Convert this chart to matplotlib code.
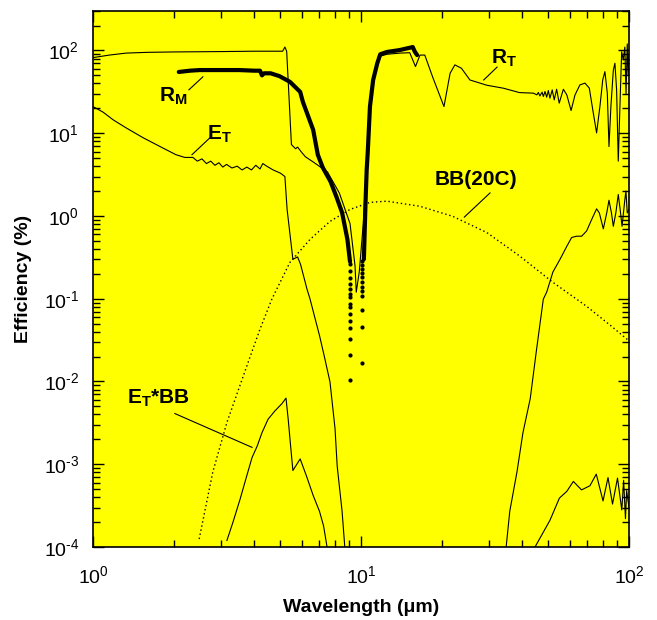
import math
import matplotlib
matplotlib.use("Agg")
import matplotlib.pyplot as plt
from matplotlib.ticker import FixedLocator, FuncFormatter, NullFormatter

plt.rcParams['font.family'] = ['Liberation Sans', 'DejaVu Sans']
plt.rcParams['mathtext.fontset'] = 'custom'
plt.rcParams['mathtext.rm'] = 'Liberation Sans'
plt.rcParams['mathtext.bf'] = 'Liberation Sans:bold'
plt.rcParams['mathtext.it'] = 'Liberation Sans:italic'

# R_T (thin reflectance)
rt_x = [1.0, 1.15, 1.33, 1.6, 2.0, 3.0, 4.0, 5.1, 5.2, 5.28, 5.5, 5.7, 5.8, 6.0, 6.2, 6.63,
        7.5, 8.3, 9.1, 9.5, 9.6, 9.85, 10.2, 10.5, 10.8, 11.2, 11.6, 12.5, 14.0, 15.2, 15.97,
        16.6, 17.3, 18.5, 20.4, 21.5, 22.4, 23.7, 25.5, 29.5, 34.0, 39.0, 44.0, 45.3, 45.9,
        46.5, 47.4, 47.9, 48.6, 49.3, 50.0, 50.7, 51.7, 52.6, 53.7, 54.9, 56.9, 58.6, 60.8,
        62.9, 65.6, 68.5, 71.1, 73.6, 75.7, 77.9, 79.8, 81.3, 83.0, 84.2, 85.6, 87.4, 88.6,
        89.9, 91.2, 92.5, 93.9, 95.2, 96.5, 97.5, 98.5, 99.3, 100.0]
rt_y = [82, 88, 93, 95, 96, 97, 98, 98, 110, 98, 7.3, 6.5, 6.8, 5.9, 5.2, 4.5,
        3.4, 1.9, 0.81, 0.25, 0.12, 0.21, 0.81, 4.8, 19, 50, 84, 90, 93, 94, 64,
        88, 88, 48, 21, 53, 67, 61, 44, 38, 35, 31, 30.5, 29.1, 31.1,
        28.2, 31.4, 27.8, 31.9, 27.3, 32.8, 26.5, 33.4, 25.3, 34.0, 23.1, 34.0, 29.1, 18.8,
        29.1, 38.4, 40.3, 35.1, 17.5, 10.1, 21.1, 44.1, 55.5, 30.5, 6.9, 21.1, 57.6, 70.1,
        33.4, 4.6, 21.1, 96.7, 76.8, 110, 30, 120, 50, 90]

# E_T (thin transmission)
et_x = [1.0, 1.09, 1.19, 1.33, 1.54, 1.78, 2.04, 2.2, 2.36, 2.45, 2.55, 2.65, 2.75, 2.85,
        2.95, 3.05, 3.15, 3.3, 3.45, 3.6, 3.75, 3.9, 4.05, 4.2, 4.3, 4.45, 4.7, 5.0, 5.2,
        5.3, 5.57, 5.8, 5.95, 6.29, 6.45, 7.0, 7.3, 7.66, 8.0, 8.15, 8.5, 8.7]
et_y = [21, 18, 14.5, 11.6, 8.8, 6.9, 5.5, 5.1, 5.1, 4.6, 4.9, 4.3, 4.6, 4.1,
        4.4, 3.9, 4.2, 3.8, 4.0, 3.6, 3.9, 3.6, 4.1, 3.7, 4.3, 4.0, 3.6, 3.3, 3.0,
        1.2, 0.30, 0.32, 0.26, 0.13, 0.10, 0.036, 0.02, 0.0099, 0.0027, 9.5e-4, 2.7e-4, 1e-4]
et2_x = [34.8, 35.9, 38.2, 40.2, 42.8, 45.2, 47.9, 49.3, 52.0, 55.3, 58.6, 61.1, 63.8,
         66.6, 69.5, 72.6, 75.7, 77.5, 80.2, 82.6, 84.2, 86.0, 87.4, 89.3, 91.2, 93.0,
         94.2, 96.5, 97.4, 98.5, 100.0]
et2_y = [1e-4, 2.7e-4, 8.1e-4, 2.4e-3, 6.2e-3, 0.0245, 0.099, 0.12, 0.21, 0.30, 0.43,
         0.55, 0.57, 0.57, 0.66, 0.91, 1.22, 1.09, 0.70, 1.09, 1.55, 1.09, 0.75, 1.09, 1.82,
         1.09, 0.75, 1.58, 2.0, 1.09, 1.2]

# R_M (thick measured reflectance)
rm_x = [2.09, 2.3, 2.5, 2.73, 3.0, 3.5, 4.0, 4.2, 4.27, 4.35, 4.6, 4.96, 5.43, 5.93, 6.07,
        6.63, 6.9, 7.2, 7.7, 8.1, 8.5, 8.9, 9.1]
rm_y = [55, 57, 58, 58, 58, 58, 57, 57, 50, 53, 53, 49, 41.8, 31.6, 23.9,
        11.0, 5.5, 3.85, 2.6, 1.7, 1.1, 0.52, 0.28]
rm2_x = [10.25, 10.4, 10.5, 10.6, 10.8, 11.1, 11.5, 11.8, 12.5, 13.9, 15.6, 15.9, 16.2]
rm2_y = [0.3, 1.5, 3.6, 6.0, 21, 44, 70, 90, 96, 101, 110, 96, 88]
rm_dots1_x = [9.1] * 15
rm_dots1_y = [0.26, 0.214, 0.177, 0.15, 0.13, 0.113, 0.104, 0.086, 0.079, 0.065, 0.054,
              0.044, 0.0325, 0.0208, 0.0104]
rm_dots2_x = [10.1] * 12
rm_dots2_y = [0.283, 0.254, 0.226, 0.203, 0.182, 0.158, 0.138, 0.123, 0.107, 0.0727,
              0.0454, 0.0167]

# BB(20C) blackbody
bb_x = [2.49, 2.8, 3.16, 3.75, 4.2, 4.65, 5.43, 6.45, 7.66, 9.1, 10.8, 12.5, 16.6, 22.0,
        29.5, 39.0, 52.0, 69.5, 85.0, 100.0]
bb_y = [1.25e-4, 8.1e-4, 3.2e-3, 0.0154, 0.043, 0.099, 0.275, 0.52, 0.86, 1.2, 1.46, 1.51,
        1.31, 0.99, 0.63, 0.33, 0.158, 0.081, 0.048, 0.031]

# E_T*BB
ebb_x = [3.16, 3.33, 3.54, 3.75, 3.92, 4.1, 4.27, 4.5, 4.77, 5.07, 5.25, 5.35, 5.45, 5.57,
         5.93, 6.28, 6.63, 7.0, 7.25, 7.47]
ebb_y = [1.2e-4, 2e-4, 3.8e-4, 7.3e-4, 1.2e-3, 1.66e-3, 2.4e-3, 3.5e-3, 4.4e-3, 5.4e-3,
         6.3e-3, 3.5e-3, 1.8e-3, 8.4e-4, 1.16e-3, 7e-4, 4.2e-4, 2.7e-4, 1.8e-4, 1e-4]
ebb2_x = [44.6, 50.7, 55.0, 58.6, 62.0, 66.5, 71.5, 75.5, 80.0, 83.5, 86.8, 90.6, 94.0,
          95.5, 97.0, 98.0, 100.0]
ebb2_y = [1e-4, 2.1e-4, 3.9e-4, 4.7e-4, 6.2e-4, 4.9e-4, 5.5e-4, 7.6e-4, 3.6e-4, 6.9e-4,
          3.3e-4, 6.8e-4, 2.8e-4, 6.4e-4, 2.2e-4, 4.8e-4, 3e-4]

x_major = [1, 10, 100]
y_major = [1e-4, 1e-3, 1e-2, 1e-1, 1, 10, 100]

fig = plt.figure(figsize=(6.57, 6.2), dpi=100)
ax = fig.add_axes([93 / 657, 1 - 547 / 620, 536 / 657, 536 / 620])
ax.set_facecolor('#ffff00')

ax.plot(rt_x, rt_y, color='black', lw=0.8)
ax.plot(et_x, et_y, color='black', lw=0.8)
ax.plot(et2_x, et2_y, color='black', lw=0.8)
ax.plot(ebb_x, ebb_y, color='black', lw=0.8)
ax.plot(ebb2_x, ebb2_y, color='black', lw=0.8)
ax.plot(bb_x, bb_y, color='black', lw=1.0, linestyle=(0, (1, 2)))
ax.plot(rm_x, rm_y, color='black', lw=3.0, solid_capstyle='round')
ax.plot(rm2_x, rm2_y, color='black', lw=3.0, solid_capstyle='round')
ax.plot(rm_dots1_x, rm_dots1_y, 'o', color='black', ms=2)
ax.plot(rm_dots2_x, rm_dots2_y, 'o', color='black', ms=2)

ax.set_xscale('log')
ax.set_yscale('log')
ax.set_xlim(1, 100)
ax.set_ylim(1e-4, 3e2)


def fmt(v, pos):
    e = int(round(math.log10(v)))
    sign = '\u2010' if e < 0 else ''
    return r'$\mathdefault{10^{%s%d}}$' % (sign, abs(e))


def minors(lo, hi):
    out = []
    for d in range(lo, hi):
        out += [k * 10.0 ** d for k in range(2, 10)]
    return out


ax.xaxis.set_major_locator(FixedLocator(x_major))
ax.yaxis.set_major_locator(FixedLocator(y_major))
ax.xaxis.set_minor_locator(FixedLocator(minors(0, 2)))
ax.yaxis.set_minor_locator(FixedLocator([v for v in minors(-4, 3) if v <= 3e2]))
ax.xaxis.set_major_formatter(FuncFormatter(fmt))
ax.yaxis.set_major_formatter(FuncFormatter(fmt))
ax.xaxis.set_minor_formatter(NullFormatter())
ax.yaxis.set_minor_formatter(NullFormatter())
ax.tick_params(which='both', direction='in', top=True, right=True, labelsize=14)
ax.tick_params(which='major', length=8, width=1, pad=10)
ax.tick_params(axis='x', which='major', pad=13)
ax.tick_params(which='minor', length=5, width=1)
for s in ax.spines.values():
    s.set_linewidth(1.2)

fig.text(361 / 657, 1 - 608 / 620, u'Wavelength (\u03bcm)', ha='center', va='center',
         fontsize=14, fontweight='bold')
fig.text(24 / 657, 1 - 279 / 620, 'Efficiency (%)', ha='center', va='center',
         rotation=90, fontsize=14, fontweight='bold')

# curve labels with leader lines
lab_kw = dict(fontsize=15, ha='left', va='baseline')
ax.text(1.76, 24, r'$\mathbf{R_M}$', **lab_kw)
ax.plot([2.28, 2.57], [33.5, 48], color='black', lw=0.8)
ax.text(2.67, 8.4, r'$\mathbf{E_T}$', **lab_kw)
ax.plot([2.34, 2.73], [5.5, 8.8], color='black', lw=0.8)
ax.text(30.5, 70, r'$\mathbf{R_T}$', **lab_kw)
ax.plot([28.7, 32.2], [44, 63], color='black', lw=0.8)
ax.text(18.9, 2.4, 'BB(20C)', fontsize=15, fontweight='bold', ha='left', va='baseline')
ax.plot([24.3, 30.3], [0.97, 1.9], color='black', lw=0.8)
ax.text(1.34, 5.4e-3, r'$\mathbf{E_T}$*BB', fontsize=15, fontweight='bold',
        ha='left', va='baseline')
ax.plot([2.02, 3.92], [4.1e-3, 1.6e-3], color='black', lw=0.8)

fig.savefig('out.png', dpi=100)
